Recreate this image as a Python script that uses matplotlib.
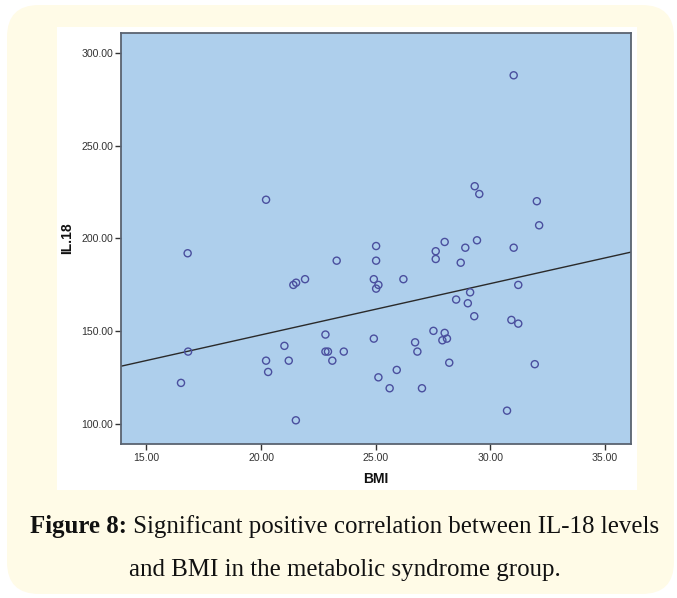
import numpy as np
import matplotlib
matplotlib.use("Agg")
import matplotlib.pyplot as plt
from matplotlib.patches import FancyBboxPatch, Rectangle
from matplotlib.transforms import IdentityTransform

# ---- data ----
bmi = [20.22, 16.80, 31.02, 29.32, 29.52, 32.03, 32.13, 25.02, 28.01, 27.62,
       28.91, 29.42, 31.02, 23.30, 21.41, 21.53, 21.92, 22.81, 21.02, 22.81,
       22.92, 23.61, 16.82, 20.22, 21.21, 23.11, 20.31, 16.51, 21.52, 25.02,
       27.62, 28.71, 24.92, 25.12, 25.02, 26.21, 31.22, 29.12, 28.51, 29.02,
       29.30, 30.92, 31.22, 27.52, 28.01, 27.91, 28.11, 26.72, 24.92, 26.82,
       28.21, 31.94, 25.92, 25.12, 25.61, 27.02, 30.73]
il18 = [220.9, 192.0, 288.1, 228.2, 224.0, 220.1, 207.1, 195.9, 198.1, 193.1,
        195.0, 199.0, 195.0, 188.0, 174.9, 176.1, 178.0, 148.1, 142.0, 138.9,
        138.9, 138.9, 138.9, 134.0, 134.0, 134.0, 127.9, 122.0, 101.8, 188.0,
        188.9, 186.9, 178.0, 174.9, 172.9, 178.0, 174.9, 170.9, 167.0, 165.0,
        158.0, 156.0, 154.0, 150.1, 149.0, 145.0, 145.9, 143.9, 145.9, 138.9,
        132.9, 132.1, 129.0, 125.0, 119.1, 119.1, 107.0]
x_ticks = [15, 20, 25, 30, 35]
y_ticks = [100, 150, 200, 250, 300]
x_label = "BMI"
y_label = "IL.18"
caption_bold = "Figure 8:"
caption_line1 = " Significant positive correlation between IL-18 levels"
caption_line2 = "and BMI in the metabolic syndrome group."

W, H = 677, 598
fig = plt.figure(figsize=(W / 100, H / 100), dpi=100)
fig.patch.set_facecolor("white")

def px(y):
    return H - y

# cream rounded background
bg = FancyBboxPatch((7, px(594)), 667, 589,
                    boxstyle="round,pad=0,rounding_size=32",
                    transform=IdentityTransform(), facecolor="#fffbe7",
                    edgecolor="none", zorder=0)
fig.patches.append(bg)
# white chart panel
panel = Rectangle((57, px(490)), 580, 463, transform=IdentityTransform(),
                  facecolor="white", edgecolor="none", zorder=1)
fig.patches.append(panel)

ax_l, ax_r, ax_t, ax_b = 120.7, 631.3, 32.7, 444.0
ax = fig.add_axes([ax_l / W, 1 - ax_b / H, (ax_r - ax_l) / W, (ax_b - ax_t) / H])
ax.set_facecolor("#aecfec")
ax.set_zorder(2)

ax.set_xlim(13.88, 36.15)
ax.set_ylim(89.0, 311.1)

ax.scatter(bmi, il18, s=26, facecolors="none", edgecolors="#4a4f9e",
           linewidths=1.0, zorder=3)

# least-squares fit line
slope, intercept = np.polyfit(bmi, il18, 1)
xl = np.array(ax.get_xlim())
ax.plot(xl, intercept + slope * xl, color="#2a2a2a", lw=1.0, zorder=2)
ax.set_xlim(13.88, 36.15)

ax.set_xticks(x_ticks)
ax.set_xticklabels([f"{v:.2f}" for v in x_ticks])
ax.set_yticks(y_ticks)
ax.set_yticklabels([f"{v:.2f}" for v in y_ticks])
ax.tick_params(axis="both", direction="out", length=4, width=1.0,
               color="#333333", labelsize=7.6, labelcolor="#333333",
               pad=1.5, top=False, right=False)
ax.tick_params(axis="x", pad=2.5)
for lab in ax.get_xticklabels() + ax.get_yticklabels():
    lab.set_fontfamily("Liberation Sans")

for side in ["left", "bottom", "top", "right"]:
    ax.spines[side].set_color("#5a6370")
    ax.spines[side].set_linewidth(1.3)

fig.text(67 / W, 1 - 238 / H, y_label, rotation=90, ha="center", va="center",
         fontsize=10, fontweight="bold", family="Liberation Sans", color="#111111")
fig.text(376 / W, 1 - 479 / H, x_label, ha="center", va="center",
         fontsize=10, fontweight="bold", family="Liberation Sans", color="#111111")

# caption
cap_size = 17.9
cx = 345
fig.canvas.draw()
r = fig.canvas.get_renderer()
tb = fig.text(0, 0, caption_bold, fontsize=cap_size, fontweight="bold",
              family="Liberation Serif", color="#111111", va="baseline")
tr = fig.text(0, 0, caption_line1, fontsize=cap_size,
              family="Liberation Serif", color="#111111", va="baseline")
wb = tb.get_window_extent(r).width
wr = tr.get_window_extent(r).width
x0 = cx - (wb + wr) / 2
tb.set_position((x0 / W, 1 - 533 / H))
tr.set_position(((x0 + wb) / W, 1 - 533 / H))
fig.text(cx / W, 1 - 576 / H, caption_line2, fontsize=cap_size,
         family="Liberation Serif", color="#111111", ha="center", va="baseline")

fig.savefig("out.png", dpi=100)
